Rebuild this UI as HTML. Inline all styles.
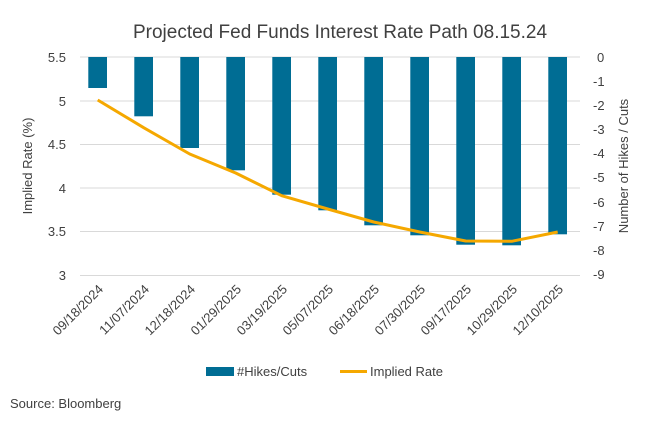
<!DOCTYPE html>
<html><head><style>
body{margin:0;background:#fff;}
text{font-family:"Liberation Sans",sans-serif;fill:#404040;}
</style></head><body>
<svg width="650" height="420" xmlns="http://www.w3.org/2000/svg">
<text x="340" y="38" font-size="19" text-anchor="middle" fill="#555">Projected Fed Funds Interest Rate Path 08.15.24</text>
<g stroke="#d9d9d9" stroke-width="1">
<line x1="80" x2="580" y1="57" y2="57"/><line x1="80" x2="580" y1="101" y2="101"/>
<line x1="80" x2="580" y1="144.5" y2="144.5"/><line x1="80" x2="580" y1="188" y2="188"/>
<line x1="80" x2="580" y1="231.5" y2="231.5"/><line x1="80" x2="580" y1="275.5" y2="275.5"/>
</g>
<g font-size="13" text-anchor="end">
<text x="66" y="62">5.5</text><text x="66" y="106">5</text><text x="66" y="149">4.5</text>
<text x="66" y="193">4</text><text x="66" y="236">3.5</text><text x="66" y="280">3</text>
</g>
<g font-size="13" text-anchor="start">
<text x="597" y="62">0</text><text x="593" y="86">-1</text><text x="593" y="110">-2</text>
<text x="593" y="134">-3</text><text x="593" y="158">-4</text><text x="593" y="182">-5</text>
<text x="593" y="207">-6</text><text x="593" y="231">-7</text><text x="593" y="255">-8</text><text x="593" y="279">-9</text>
</g>
<text transform="translate(32,166) rotate(-90)" font-size="13" text-anchor="middle">Implied Rate (%)</text>
<text transform="translate(628,166) rotate(-90)" font-size="13" text-anchor="middle">Number of Hikes / Cuts</text>
<g fill="#006d94">
<rect x="88.3" y="57" width="18.7" height="31"/>
<rect x="134.3" y="57" width="18.7" height="59.3"/>
<rect x="180.3" y="57" width="18.7" height="91"/>
<rect x="226.3" y="57" width="18.7" height="113.3"/>
<rect x="272.3" y="57" width="18.7" height="137.7"/>
<rect x="318.3" y="57" width="18.7" height="153.3"/>
<rect x="364.3" y="57" width="18.7" height="168.3"/>
<rect x="410.3" y="57" width="18.7" height="178.3"/>
<rect x="456.3" y="57" width="18.7" height="187.7"/>
<rect x="502.3" y="57" width="18.7" height="188.3"/>
<rect x="548.3" y="57" width="18.7" height="177.3"/>
</g>
<polyline fill="none" stroke="#f5a800" stroke-width="3" stroke-linejoin="round" points="97.7,100 143.7,127.7 189.7,154 235.7,173 281.7,195.7 327.7,209 373.7,222 419.7,232 465.7,241 511.7,241.3 557.7,232"/>
<g font-size="13" text-anchor="end">
<text transform="translate(104,290) rotate(-45)">09/18/2024</text>
<text transform="translate(150,290) rotate(-45)">11/07/2024</text>
<text transform="translate(196,290) rotate(-45)">12/18/2024</text>
<text transform="translate(242,290) rotate(-45)">01/29/2025</text>
<text transform="translate(288,290) rotate(-45)">03/19/2025</text>
<text transform="translate(334,290) rotate(-45)">05/07/2025</text>
<text transform="translate(380,290) rotate(-45)">06/18/2025</text>
<text transform="translate(426,290) rotate(-45)">07/30/2025</text>
<text transform="translate(472,290) rotate(-45)">09/17/2025</text>
<text transform="translate(518,290) rotate(-45)">10/29/2025</text>
<text transform="translate(564,290) rotate(-45)">12/10/2025</text>
</g>
<rect x="206" y="367" width="28" height="9" fill="#006d94"/>
<text x="237" y="376" font-size="13">#Hikes/Cuts</text>
<line x1="340" x2="367" y1="371.5" y2="371.5" stroke="#f5a800" stroke-width="3"/>
<text x="370" y="376" font-size="13">Implied Rate</text>
<text x="10" y="408" font-size="13">Source: Bloomberg</text>
</svg>
</body></html>
